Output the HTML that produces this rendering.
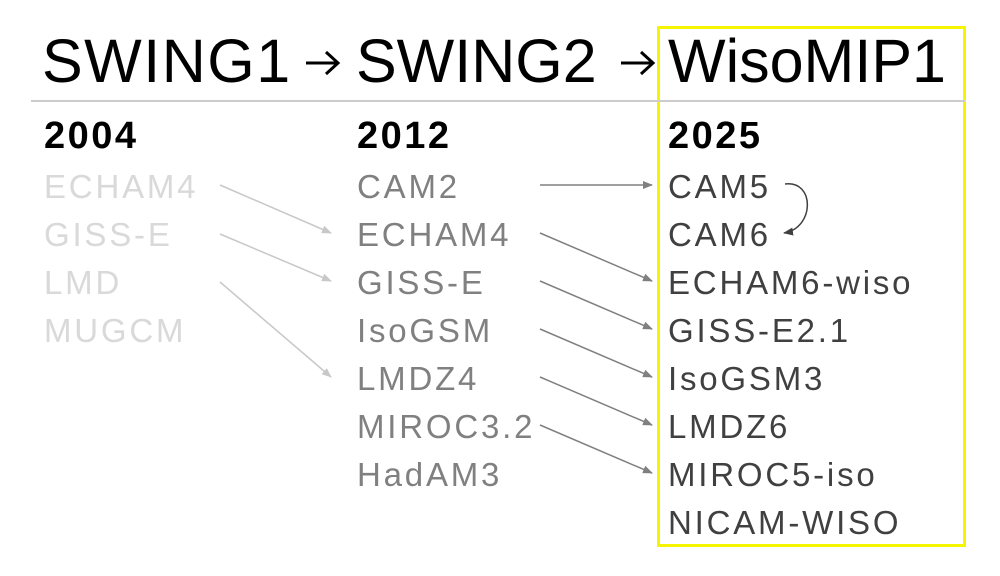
<!DOCTYPE html>
<html><head><style>html,body{margin:0;padding:0;background:#fff}</style></head><body>
<svg width="1000" height="571" viewBox="0 0 1000 571" xmlns="http://www.w3.org/2000/svg" font-family="Liberation Sans, sans-serif">
<defs>
<marker id="a1" markerWidth="10" markerHeight="8" refX="9" refY="4" orient="auto" markerUnits="userSpaceOnUse"><path d="M0,0 L10,4 L0,8 Z" fill="#c8c8c8"/></marker>
<marker id="a2" markerWidth="10" markerHeight="8" refX="9" refY="4" orient="auto" markerUnits="userSpaceOnUse"><path d="M0,0 L10,4 L0,8 Z" fill="#808080"/></marker>
<marker id="a3" markerWidth="10" markerHeight="8" refX="9" refY="4" orient="auto" markerUnits="userSpaceOnUse"><path d="M0,0 L10,4 L0,8 Z" fill="#404040"/></marker>
</defs>
<rect x="658.5" y="27.5" width="306" height="518" fill="none" stroke="#f5f500" stroke-width="3"/>
<line x1="31" y1="101" x2="965" y2="101" stroke="#cccccc" stroke-width="2"/>
<g font-size="61" fill="#000">
<text x="42" y="82" letter-spacing="1.5">SWING1</text>
<text x="356" y="82">SWING2</text>
<text x="668" y="82">WisoMIP1</text>
</g>
<g fill="none" stroke="#000" stroke-width="3">
<path d="M306,63 H337 M326,52 L338,63 L326,74"/>
<path d="M621,63 H652 M641,52 L653,63 L641,74"/>
</g>
<g font-size="38" font-weight="bold" fill="#000" letter-spacing="2.5">
<text x="44" y="148">2004</text>
<text x="357" y="148">2012</text>
<text x="668" y="148">2025</text>
</g>
<g font-size="33" letter-spacing="2.8">
<g fill="#d9d9d9">
<text x="44" y="198">ECHAM4</text>
<text x="44" y="246">GISS-E</text>
<text x="44" y="294">LMD</text>
<text x="44" y="342">MUGCM</text>
</g>
<g fill="#808080">
<text x="357" y="198">CAM2</text>
<text x="357" y="246">ECHAM4</text>
<text x="357" y="294">GISS-E</text>
<text x="357" y="342">IsoGSM</text>
<text x="357" y="390">LMDZ4</text>
<text x="357" y="438">MIROC3.2</text>
<text x="357" y="486">HadAM3</text>
</g>
<g fill="#404040">
<text x="668" y="198">CAM5</text>
<text x="668" y="246">CAM6</text>
<text x="668" y="294">ECHAM6-wiso</text>
<text x="668" y="342">GISS-E2.1</text>
<text x="668" y="390">IsoGSM3</text>
<text x="668" y="438">LMDZ6</text>
<text x="668" y="486">MIROC5-iso</text>
<text x="668" y="534">NICAM-WISO</text>
</g>
</g>
<g stroke="#c8c8c8" stroke-width="1.5" marker-end="url(#a1)">
<line x1="220" y1="185" x2="331" y2="233"/>
<line x1="220" y1="234" x2="331" y2="281"/>
<line x1="220" y1="282" x2="331" y2="377"/>
</g>
<g stroke="#808080" stroke-width="1.5" marker-end="url(#a2)">
<line x1="540" y1="185" x2="652" y2="185"/>
<line x1="540" y1="233" x2="652" y2="281"/>
<line x1="540" y1="281" x2="652" y2="329"/>
<line x1="540" y1="329" x2="652" y2="377"/>
<line x1="540" y1="377" x2="652" y2="425"/>
<line x1="540" y1="425" x2="652" y2="473"/>
</g>
<path d="M785,184 C815,180 815,228 784,233" fill="none" stroke="#404040" stroke-width="1.5" marker-end="url(#a3)"/>
</svg>
</body></html>
